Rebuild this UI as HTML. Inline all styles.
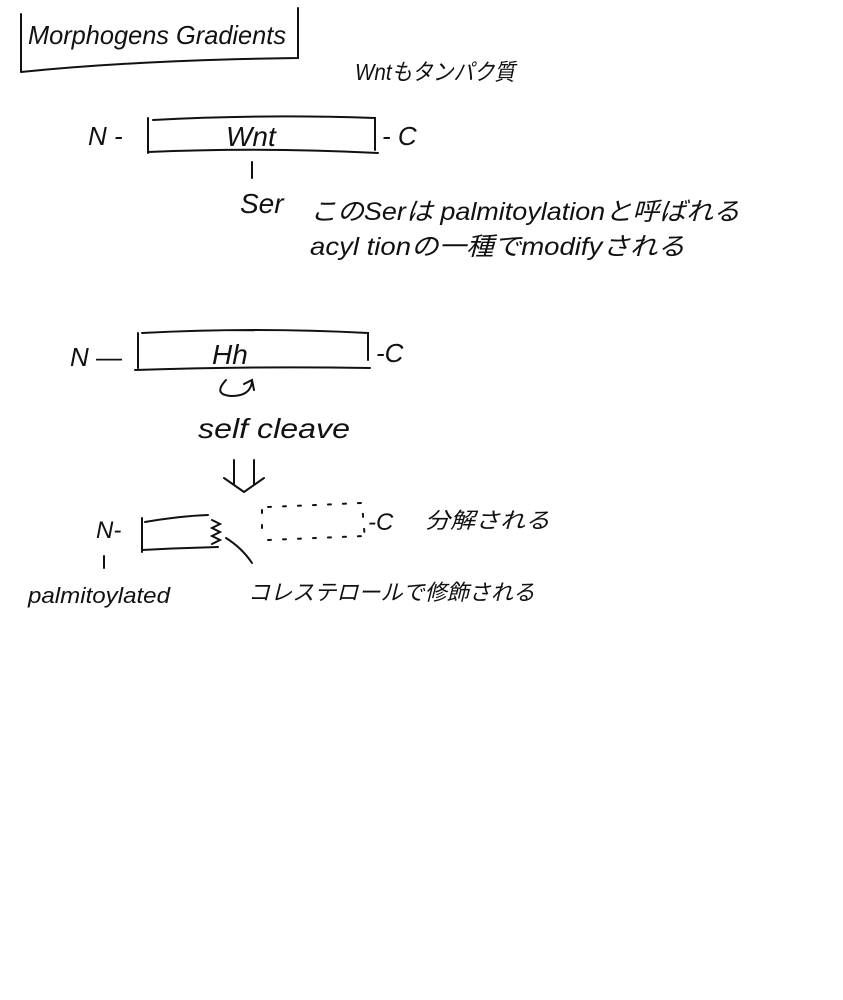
<!DOCTYPE html>
<html><head><meta charset="utf-8"><style>
html,body{margin:0;padding:0;background:#fff}
svg{display:block}
text{font-family:"Liberation Sans","Noto Sans CJK JP",sans-serif;fill:#111}
</style></head><body>
<svg width="843" height="1000" viewBox="0 0 843 1000" xmlns="http://www.w3.org/2000/svg">
<g stroke="#111" stroke-width="2" fill="none" stroke-linecap="round">
<path d="M21 14 L21 72 M21 72 Q140 60 298 58 L298 8"/>
<path d="M148 118 L148 153 M153 120 Q260 114 375 118 L375 150 M148 152 Q260 147 378 153"/>
<path d="M252 162 L252 178"/>
<path d="M138 333 L138 368 M142 333 Q255 327 368 333 L368 360 M135 370 Q250 366 370 368"/>
<path d="M226 380 Q212 395 232 396 Q250 396 252 382 M244 384 L252 380 L254 390"/>
<path d="M234 460 L234 485 M254 460 L254 485 M224 478 L244 492 L264 478"/>
<path d="M142 518 L142 552 M145 522 Q180 516 208 515 M142 550 Q180 548 218 547"/>
<path d="M212 520 L220 524 L212 528 L220 532 L212 536 L220 540 L212 544"/>
<path d="M226 538 Q242 548 252 563"/>
<path d="M262 510 L262 540 M268 540 L365 536 M268 507 L362 503 L365 540" stroke-dasharray="3 12"/>
<path d="M104 556 L104 568"/>
</g>
<g font-style="italic">
<text x="28" y="44" font-size="26" textLength="258" lengthAdjust="spacingAndGlyphs">Morphogens Gradients</text>
<text x="355" y="80" font-size="23" textLength="160" lengthAdjust="spacingAndGlyphs">Wntもタンパク質</text>
<text x="88" y="145" font-size="26">N -</text>
<text x="226" y="146" font-size="28">Wnt</text>
<text x="382" y="145" font-size="26">- C</text>
<text x="240" y="213" font-size="28">Ser</text>
<text x="310" y="220" font-size="25" textLength="430" lengthAdjust="spacingAndGlyphs">このSerは palmitoylationと呼ばれる</text>
<text x="310" y="255" font-size="25" textLength="375" lengthAdjust="spacingAndGlyphs">acyl tionの一種でmodifyされる</text>
<text x="70" y="366" font-size="26">N —</text>
<text x="212" y="364" font-size="28">Hh</text>
<text x="376" y="362" font-size="26">-C</text>
<text x="198" y="438" font-size="28" textLength="152" lengthAdjust="spacingAndGlyphs">self cleave</text>
<text x="96" y="538" font-size="24">N-</text>
<text x="368" y="530" font-size="24">-C</text>
<text x="425" y="528" font-size="22" textLength="125" lengthAdjust="spacingAndGlyphs">分解される</text>
<text x="28" y="603" font-size="22" textLength="142" lengthAdjust="spacingAndGlyphs">palmitoylated</text>
<text x="248" y="600" font-size="22" textLength="287" lengthAdjust="spacingAndGlyphs">コレステロールで修飾される</text>
</g>
</svg>
</body></html>
